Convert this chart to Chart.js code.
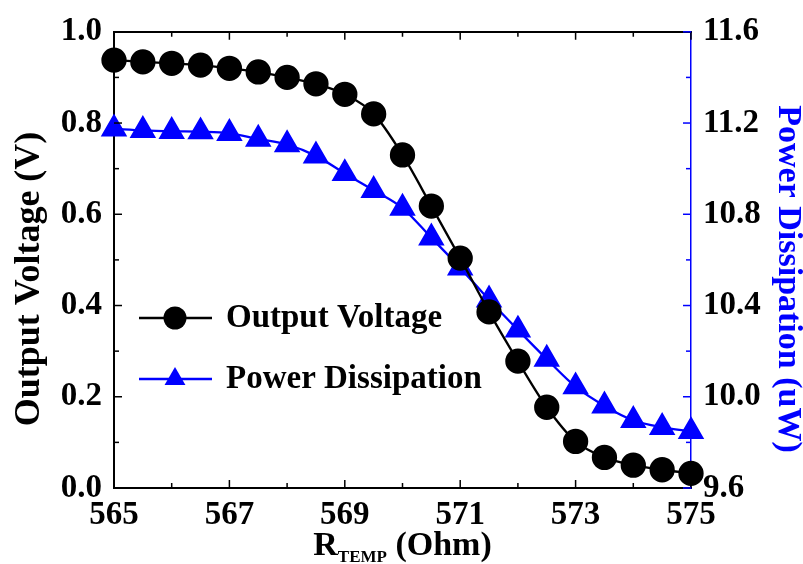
<!DOCTYPE html>
<html>
<head>
<meta charset="utf-8">
<script src="https://cdn.jsdelivr.net/npm/chart.js@4"></script>
<style>
  html, body { margin: 0; padding: 0; background: #fff; }
  #wrap { width: 803px; height: 564px; }
</style>
</head>
<body>
<div id="wrap"><canvas id="chart"></canvas></div>
<script>
const rTemp = [565, 565.5, 566, 566.5, 567, 567.5, 568, 568.5, 569, 569.5, 570,
               570.5, 571, 571.5, 572, 572.5, 573, 573.5, 574, 574.5, 575];
const outputVoltage = [0.938, 0.934, 0.931, 0.927, 0.920, 0.912, 0.900, 0.886, 0.863, 0.820, 0.730,
                       0.618, 0.504, 0.386, 0.278, 0.177, 0.102, 0.067, 0.050, 0.040, 0.032];
const powerDissipation = [11.175, 11.168, 11.164, 11.162, 11.155, 11.130, 11.106, 11.056, 10.979, 10.905, 10.827,
                          10.697, 10.565, 10.425, 10.293, 10.165, 10.044, 9.960, 9.897, 9.866, 9.848];

const xTicks = [565, 567, 569, 571, 573, 575];
const xMinor = [566, 568, 570, 572, 574];
const voltageTicks = [0.0, 0.2, 0.4, 0.6, 0.8, 1.0];
const voltageMinor = [0.1, 0.3, 0.5, 0.7, 0.9];
const powerTicks = [9.6, 10.0, 10.4, 10.8, 11.2, 11.6];
const powerMinor = [9.8, 10.2, 10.6, 11.0, 11.4];

const BLUE = "#0000ff";
const FONT = "'Liberation Serif', 'Times New Roman', serif";

// inward tick marks on all four sides
const tickMarks = {
  id: "tickMarks",
  afterDraw(chart) {
    const { ctx, chartArea: a, scales } = chart;
    ctx.save();
    ctx.lineWidth = 1.5;
    const hx = (vals, len) => vals.forEach(v => {
      const px = scales.x.getPixelForValue(v);
      ctx.beginPath();
      ctx.moveTo(px, a.bottom); ctx.lineTo(px, a.bottom - len);
      ctx.moveTo(px, a.top); ctx.lineTo(px, a.top + len);
      ctx.stroke();
    });
    ctx.strokeStyle = "#000";
    hx(xTicks, 8); hx(xMinor, 5);
    const vy = (scale, vals, len, left) => vals.forEach(v => {
      const py = scale.getPixelForValue(v);
      ctx.beginPath();
      if (left) { ctx.moveTo(a.left, py); ctx.lineTo(a.left + len, py); }
      else { ctx.moveTo(a.right, py); ctx.lineTo(a.right - len, py); }
      ctx.stroke();
    });
    vy(scales.y, voltageTicks, 8, true); vy(scales.y, voltageMinor, 5, true);
    ctx.strokeStyle = BLUE;
    vy(scales.y2, powerTicks, 8, false); vy(scales.y2, powerMinor, 5, false);
    ctx.restore();
  }
};

// legend inside the plot, axis titles, x title with subscript
const extras = {
  id: "extras",
  afterDraw(chart) {
    const { ctx, chartArea: a } = chart;
    ctx.save();
    const rows = [
      { y: 318, color: "#000", label: "Output Voltage", shape: "circle" },
      { y: 379, color: BLUE, label: "Power Dissipation", shape: "triangle" }
    ];
    rows.forEach(r => {
      ctx.strokeStyle = r.color; ctx.fillStyle = r.color; ctx.lineWidth = 2.5;
      ctx.beginPath(); ctx.moveTo(139, r.y); ctx.lineTo(212, r.y); ctx.stroke();
      ctx.beginPath();
      if (r.shape === "circle") {
        ctx.arc(175, r.y, 11.5, 0, Math.PI * 2);
      } else {
        const s = 12;
        ctx.moveTo(175, r.y - s);
        ctx.lineTo(175 + s * 0.87, r.y + s * 0.5);
        ctx.lineTo(175 - s * 0.87, r.y + s * 0.5);
        ctx.closePath();
      }
      ctx.fill();
      ctx.fillStyle = "#000";
      ctx.font = "bold 33px " + FONT;
      ctx.textBaseline = "middle";
      ctx.textAlign = "left";
      ctx.fillText(r.label, 226, r.y);
    });

    // y titles
    ctx.textAlign = "center"; ctx.textBaseline = "middle";
    ctx.save();
    ctx.translate(30, 279); ctx.rotate(-Math.PI / 2);
    ctx.fillStyle = "#000"; ctx.font = "bold 36px " + FONT;
    ctx.fillText("Output Voltage (V)", 0, 0);
    ctx.restore();
    ctx.save();
    ctx.translate(788, 279); ctx.rotate(Math.PI / 2);
    ctx.fillStyle = BLUE; ctx.font = "bold 34px " + FONT;
    ctx.fillText("Power Dissipation (uW)", 0, 0);
    ctx.restore();

    // R_TEMP (Ohm)
    ctx.fillStyle = "#000";
    const big = "bold 34px " + FONT, small = "bold 17px " + FONT;
    ctx.font = big; const wR = ctx.measureText("R").width;
    const wO = ctx.measureText(" (Ohm)").width;
    ctx.font = small; const wT = ctx.measureText("TEMP").width;
    const cx = (a.left + a.right) / 2;
    let x = cx - (wR + wT + wO) / 2;
    const base = 555;
    ctx.textBaseline = "alphabetic"; ctx.textAlign = "left";
    ctx.font = big; ctx.fillText("R", x, base); x += wR;
    ctx.font = small; ctx.fillText("TEMP", x, base + 7); x += wT;
    ctx.font = big; ctx.fillText(" (Ohm)", x, base);
    ctx.restore();
  }
};

const tickFont = { family: FONT, size: 33, weight: "bold" };

new Chart(document.getElementById("chart"), {
  type: "line",
  data: {
    labels: rTemp,
    datasets: [{
      label: "Output Voltage",
      data: rTemp.map((x, i) => ({ x, y: outputVoltage[i] })),
      yAxisID: "y",
      borderColor: "#000",
      backgroundColor: "#000",
      borderWidth: 2.3,
      pointStyle: "circle",
      pointRadius: 11.5,
      pointHoverRadius: 11.5,
      cubicInterpolationMode: "monotone",
      clip: false
    }, {
      label: "Power Dissipation",
      data: rTemp.map((x, i) => ({ x, y: powerDissipation[i] })),
      yAxisID: "y2",
      borderColor: BLUE,
      backgroundColor: BLUE,
      borderWidth: 2.3,
      pointStyle: "triangle",
      pointRadius: 13,
      pointHoverRadius: 13,
      cubicInterpolationMode: "monotone",
      clip: false
    }]
  },
  options: {
    responsive: true,
    maintainAspectRatio: false,
    animation: false,
    layout: { padding: 0 },
    plugins: { legend: { display: false }, tooltip: { enabled: false } },
    scales: {
      x: {
        type: "linear", position: "bottom", min: 565, max: 575,
        afterBuildTicks: s => { s.ticks = xTicks.map(v => ({ value: v })); },
        afterFit: s => { s.height = 76; },
        grid: { display: false, drawTicks: false },
        border: { display: true, color: "#000", width: 2 },
        ticks: { font: tickFont, color: "#000", padding: 8, maxRotation: 0, autoSkip: false }
      },
      xTop: {
        type: "linear", position: "top", min: 565, max: 575,
        afterFit: s => { s.height = 28; },
        grid: { display: false, drawTicks: false },
        border: { display: true, color: "#000", width: 2 },
        ticks: { display: false }
      },
      y: {
        position: "left", min: 0, max: 1,
        afterBuildTicks: s => { s.ticks = voltageTicks.map(v => ({ value: v })); },
        afterFit: s => { s.width = 114; },
        grid: { display: false, drawTicks: false },
        border: { display: true, color: "#000", width: 2 },
        ticks: { font: tickFont, color: "#000", padding: 12, callback: v => v.toFixed(1) }
      },
      y2: {
        position: "right", min: 9.6, max: 11.6,
        afterBuildTicks: s => { s.ticks = powerTicks.map(v => ({ value: v })); },
        afterFit: s => { s.width = 112; },
        grid: { display: false, drawTicks: false },
        border: { display: true, color: BLUE, width: 1.5 },
        ticks: { font: tickFont, color: "#000", padding: 12, callback: v => v.toFixed(1) }
      }
    }
  },
  plugins: [tickMarks, extras]
});
</script>
</body>
</html>
